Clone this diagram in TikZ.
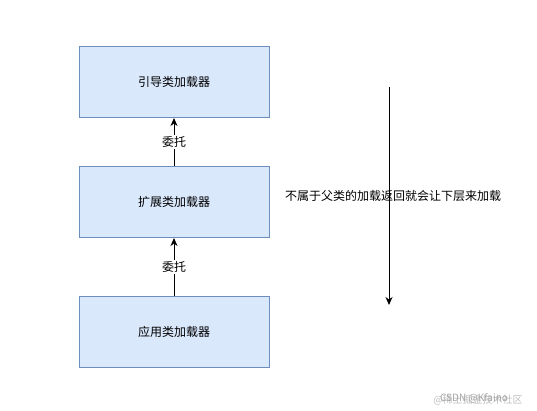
\documentclass[tikz,border=0pt]{standalone}
\usepackage{fontspec}
\newfontfamily\cjk{Noto Sans CJK SC}
\usetikzlibrary{arrows.meta}
\definecolor{boxfill}{HTML}{DAE8FC}
\definecolor{boxline}{HTML}{6C8EBF}
\begin{document}
\begin{tikzpicture}[x=1pt, y=-1pt, >={Stealth[length=8pt, width=7pt, inset=2.5pt]}, font=\cjk\fontsize{12}{14}\selectfont,
    loader/.style={draw=boxline, fill=boxfill, line width=1pt, minimum width=190pt, minimum height=71pt, inner sep=0pt},
    delegate/.style={fill=white, inner sep=1pt}]
      \useasboundingbox (0,0) rectangle (537,410);

      \node[loader] (boot) at (174,82) {引导类加载器};
      \node[loader] (ext) at (174,202) {扩展类加载器};
      \node[loader] (app) at (174,332) {应用类加载器};

      \draw[->, line width=1pt] (app) -- (ext) node[midway, delegate] {委托};
      \draw[->, line width=1pt] (ext) -- (boot) node[midway, delegate] {委托};

      \coordinate (down top) at (389,87);
      \coordinate (down bottom) at (389,305);
      \draw[->, line width=1pt] (down top) -- (down bottom);
      \node (note) at (393,196) {不属于父类的加载返回就会让下层来加载};

      % watermark
      \node[text=black!25, font=\cjk\fontsize{10}{12}\selectfont] (mark) at (478,400) {@稀土掘金技术社区};
      \node[text=black!35, font=\cjk\fontsize{10}{12}\selectfont] (csdn) at (474,398) {CSDN @Kfaino};
    \end{tikzpicture}
\end{document}
